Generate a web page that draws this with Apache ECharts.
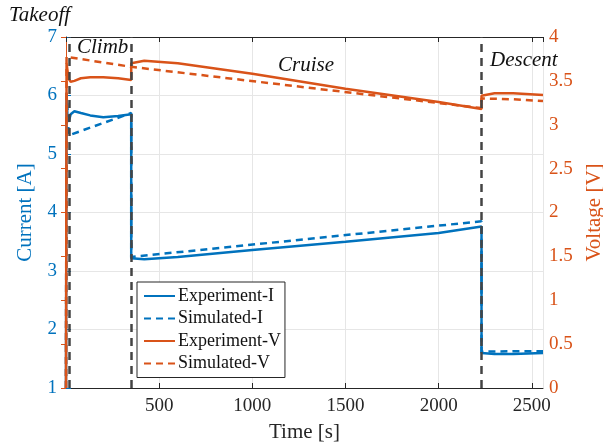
<!DOCTYPE html>
<html>
<head>
<meta charset="utf-8">
<script src="https://cdn.jsdelivr.net/npm/echarts@6/dist/echarts.min.js"></script>
<style>
html, body { margin: 0; background: #fff; }
#chart { width: 603px; height: 447px; }
</style>
</head>
<body>
<div id="chart"></div>
<script>
// measured flight profile
var expTime    = [0, 3, 8, 15, 25, 45, 80, 130, 200, 280, 350, 350, 420, 600, 1000, 1500, 2000, 2230, 2230, 2300, 2400, 2560];
var expCurrent = [1, 6.05, 5.62, 5.55, 5.68, 5.73, 5.70, 5.66, 5.63, 5.65, 5.68, 3.22, 3.20, 3.24, 3.36, 3.50, 3.65, 3.76, 1.60, 1.58, 1.58, 1.60];
var expVoltage = [0, 3.70, 3.62, 3.52, 3.49, 3.50, 3.53, 3.54, 3.54, 3.53, 3.51, 3.70, 3.73, 3.70, 3.58, 3.41, 3.26, 3.18, 3.33, 3.36, 3.36, 3.34];

// simulated profile
var simTime    = [0, 3, 15, 350, 350, 2230, 2230, 2400, 2560];
var simCurrent = [1, 6.0, 5.32, 5.70, 3.24, 3.85, 1.62, 1.63, 1.63];
var simVoltage = [0, 3.78, 3.77, 3.66, 3.67, 3.19, 3.30, 3.29, 3.27];

// phase boundaries
var phaseTimes = [15, 350, 2230];

var blue = '#0072BD', orange = '#D95319', dark = '#262626';
var serif = '"Liberation Serif", "Times New Roman", serif';

function pairs(t, v) {
	return t.map(function(x, i) { return [x, v[i]]; });
}

function phaseText(text, left, top) {
	return {
		type: 'text', left: left, top: top, z: 100,
		style: { text: text, fill: '#111', font: 'italic 21px ' + serif }
	};
}

var myChart = echarts.init(document.getElementById('chart'));
var option = {
	animation: false,
	backgroundColor: '#fff',
	grid: { left: 66, right: 60, top: 37, bottom: 59, outerBoundsMode: 'none' },
	legend: {
		orient: 'vertical',
		left: 137, top: 282,
		data: ['Experiment-I', 'Simulated-I', 'Experiment-V', 'Simulated-V'],
		backgroundColor: '#fff',
		borderColor: dark, borderWidth: 1, borderRadius: 0,
		padding: [5, 4, 5, 6],
		itemWidth: 31, itemHeight: 14, itemGap: 4.5,
		itemStyle: { color: 'rgba(0,0,0,0)', borderColor: 'rgba(0,0,0,0)', borderWidth: 0 },
		textStyle: { fontFamily: serif, fontSize: 18, color: '#111', padding: [0, 0, 0, -2] }
	},
	xAxis: [{
		type: 'value', min: 0, max: 2560, interval: 500,
		name: 'Time [s]', nameLocation: 'middle', nameGap: 34,
		nameTextStyle: { fontFamily: serif, fontSize: 21, color: dark },
		axisLine: { lineStyle: { color: dark } },
		axisTick: { inside: true, length: 5, lineStyle: { color: dark } },
		axisLabel: { fontFamily: serif, fontSize: 19, color: dark, margin: 9,
			formatter: function(v) { return v === 0 ? '' : v; } },
		splitLine: { show: true, lineStyle: { color: '#e6e6e6' } }
	}, {
		type: 'value', min: 0, max: 2560, interval: 500, position: 'top',
		axisLine: { show: true, lineStyle: { color: dark } },
		axisTick: { inside: true, length: 5, lineStyle: { color: dark } },
		axisLabel: { show: false }, splitLine: { show: false }
	}],
	yAxis: [{
		type: 'value', min: 1, max: 7, interval: 1,
		name: 'Current [A]', nameLocation: 'middle', nameGap: 30,
		nameTextStyle: { fontFamily: serif, fontSize: 21, color: blue },
		axisLine: { show: true, lineStyle: { color: blue } },
		axisTick: { show: true, inside: true, length: 5, lineStyle: { color: blue } },
		axisLabel: { fontFamily: serif, fontSize: 19, color: blue, margin: 9 },
		splitLine: { show: true, lineStyle: { color: '#e6e6e6' } }
	}, {
		type: 'value', min: 0, max: 4, interval: 0.5,
		name: 'Voltage [V]', nameLocation: 'middle', nameGap: 32, nameRotate: 90,
		nameTextStyle: { fontFamily: serif, fontSize: 21, color: orange },
		axisLine: { show: true, lineStyle: { color: orange } },
		axisTick: { show: true, inside: true, length: 5, lineStyle: { color: orange } },
		axisLabel: { fontFamily: serif, fontSize: 19, color: orange, margin: 6 },
		splitLine: { show: false }
	}],
	graphic: [
		phaseText('Takeoff', 9, 5),
		phaseText('Climb', 77, 37),
		phaseText('Cruise', 278, 55),
		phaseText('Descent', 490, 50)
	],
	series: [{
		name: 'Experiment-I', type: 'line', yAxisIndex: 0,
		data: pairs(expTime, expCurrent), showSymbol: false, symbol: 'none',
		color: blue, lineStyle: { color: blue, width: 2.5 }
	}, {
		name: 'Simulated-I', type: 'line', yAxisIndex: 0,
		data: pairs(simTime, simCurrent), showSymbol: false, symbol: 'none',
		color: blue, lineStyle: { color: blue, width: 2.5, type: [7, 5] }
	}, {
		name: 'Experiment-V', type: 'line', yAxisIndex: 1,
		data: pairs(expTime, expVoltage), showSymbol: false, symbol: 'none',
		color: orange, lineStyle: { color: orange, width: 2.5 }
	}, {
		name: 'Simulated-V', type: 'line', yAxisIndex: 1,
		data: pairs(simTime, simVoltage), showSymbol: false, symbol: 'none',
		color: orange, lineStyle: { color: orange, width: 2.5, type: [7, 5] }
	}, {
		name: 'phases', type: 'line', yAxisIndex: 0, data: [], z: 10,
		markLine: {
			silent: true, symbol: 'none', label: { show: false },
			lineStyle: { color: '#444', width: 2.5, type: [8, 6] },
			data: phaseTimes.map(function(t) { return { xAxis: t }; })
		}
	}]
};
myChart.setOption(option);
</script>
</body>
</html>
